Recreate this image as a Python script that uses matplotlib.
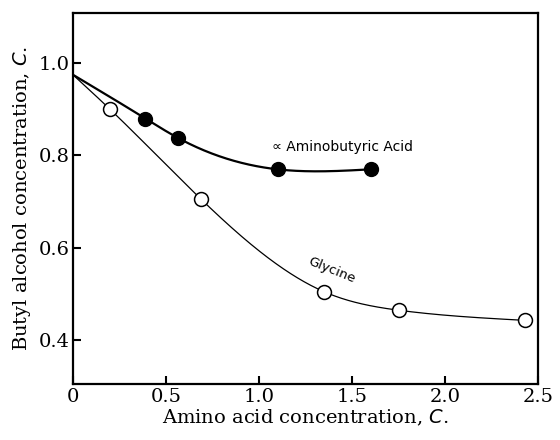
import numpy as np
import matplotlib.pyplot as plt

# Glycine (open circles)
gly_x = [0.2, 0.69, 1.35, 1.75, 2.43]
gly_y = [0.90, 0.705, 0.505, 0.465, 0.443]

# alpha-aminobutyric acid (filled circles)
abu_x = [0.39, 0.565, 1.1, 1.6]
abu_y = [0.88, 0.838, 0.770, 0.770]

# both curves start from pure butyl alcohol
x0, y0 = 0.0, 0.975


def spline(xs, ys, xn):
    # natural cubic spline through the points (the hand-drawn smooth curve)
    xs = np.asarray(xs, float)
    ys = np.asarray(ys, float)
    n = len(xs)
    h = np.diff(xs)
    A = np.zeros((n, n))
    b = np.zeros(n)
    A[0, 0] = A[-1, -1] = 1
    for k in range(1, n - 1):
        A[k, k - 1] = h[k - 1]
        A[k, k] = 2 * (h[k - 1] + h[k])
        A[k, k + 1] = h[k]
        b[k] = 6 * ((ys[k + 1] - ys[k]) / h[k] - (ys[k] - ys[k - 1]) / h[k - 1])
    M = np.linalg.solve(A, b)
    i = np.clip(np.searchsorted(xs, xn) - 1, 0, n - 2)
    t0 = xs[i + 1] - xn
    t1 = xn - xs[i]
    return (M[i] * t0**3 / (6 * h[i]) + M[i + 1] * t1**3 / (6 * h[i])
            + (ys[i] / h[i] - M[i] * h[i] / 6) * t0
            + (ys[i + 1] / h[i] - M[i + 1] * h[i] / 6) * t1)


fig = plt.figure(figsize=(5.6, 4.4), dpi=100)
ax = fig.add_axes([0.130, 0.127, 0.831, 0.843])

gx = [x0] + gly_x
gy = [y0] + gly_y
xx = np.linspace(x0, gly_x[-1], 400)
ax.plot(xx, spline(gx, gy, xx), color="black", lw=0.9)

bx = [x0] + abu_x
by = [y0] + abu_y
xx2 = np.linspace(x0, abu_x[-1], 400)
ax.plot(xx2, spline(bx, by, xx2), color="black", lw=1.6)

ax.plot(gly_x, gly_y, "o", ms=10, mfc="white", mec="black", mew=1.1)
ax.plot(abu_x, abu_y, "o", ms=10, mfc="black", mec="black")

ax.text(1.07, 0.818, "\u221d Aminobutyric Acid", fontsize=10, family="DejaVu Sans",
        ha="left", va="center")
ax.text(1.39, 0.551, "Glycine", fontsize=9.5, family="DejaVu Sans",
        rotation=-22, ha="center", va="center")

ax.set_xlim(0, 2.5)
ax.set_ylim(0.305, 1.108)
ax.set_xticks([0, 0.5, 1.0, 1.5, 2.0, 2.5])
ax.set_xticklabels(["0", "0.5", "1.0", "1.5", "2.0", "2.5"])
ax.set_yticks([0.4, 0.6, 0.8, 1.0])
ax.set_yticklabels(["0.4", "0.6", "0.8", "1.0"])
ax.tick_params(direction="in", length=6, width=1.5, labelsize=14)
ax.tick_params(axis="x", pad=3)
ax.tick_params(axis="y", pad=2)
for lab in ax.get_xticklabels() + ax.get_yticklabels():
    lab.set_family("DejaVu Serif")
for s in ax.spines.values():
    s.set_linewidth(1.6)

ax.set_xlabel("Amino acid concentration, $\\it{C}$.", family="DejaVu Serif", fontsize=14, labelpad=1)
ax.set_ylabel("Butyl alcohol concentration, $\\it{C}$.", family="DejaVu Serif", fontsize=14, labelpad=4)

fig.savefig("out.png", dpi=100)
